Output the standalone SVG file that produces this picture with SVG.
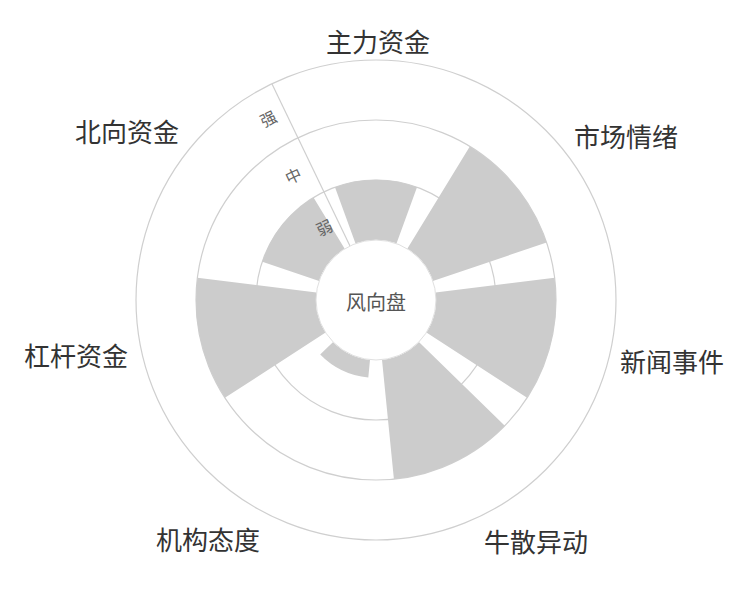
<svg xmlns="http://www.w3.org/2000/svg" width="750" height="600" viewBox="0 0 750 600">
<style>
.ring{fill:none;stroke:#cfcfcf;stroke-width:1.2}
.sec{fill:#cccccc;stroke:none}
.lbl{font-family:"Noto Sans CJK SC",sans-serif;font-size:26px;fill:#333;text-anchor:middle;dominant-baseline:central}
.lvl{font-family:"Noto Sans CJK SC",sans-serif;font-size:16px;fill:#666;text-anchor:middle;dominant-baseline:central}
</style>
<rect width="750" height="600" fill="#fff"/>
<g id="grid">
<circle class="ring" cx="376" cy="300" r="240"/>
<circle class="ring" cx="376" cy="300" r="180"/>
<circle class="ring" cx="376" cy="300" r="120"/>
</g>
<g id="sectors">
<path id="s-zhuli" class="sec" d="M355.5,243.6 L335,187.2 A120 120 0 0 1 417,187.2 L396.5,243.6 A60 60 0 0 0 355.5,243.6 Z"/>
<path id="s-shichang" class="sec" d="M407.3,248.8 L469.8,146.4 A180 180 0 0 1 546.6,242.6 L432.9,280.9 A60 60 0 0 0 407.3,248.8 Z"/>
<path id="s-xinwen" class="sec" d="M435.5,292.6 L554.6,277.8 A180 180 0 0 1 527.1,397.8 L426.4,332.6 A60 60 0 0 0 435.5,292.6 Z"/>
<path id="s-niusan" class="sec" d="M418.9,341.9 L504.8,425.7 A180 180 0 0 1 393.9,479.1 L382,359.7 A60 60 0 0 0 418.9,341.9 Z"/>
<path id="s-jigou" class="sec" d="M370,359.7 L368.3,377.6 A78 78 0 0 1 320.2,354.5 L333.1,341.9 A60 60 0 0 0 370,359.7 Z"/>
<path id="s-ganggan" class="sec" d="M325.6,332.6 L224.9,397.8 A180 180 0 0 1 197.4,277.8 L316.5,292.6 A60 60 0 0 0 325.6,332.6 Z"/>
<path id="s-beixiang" class="sec" d="M319.1,280.9 L262.3,261.7 A120 120 0 0 1 313.5,197.6 L344.7,248.8 A60 60 0 0 0 319.1,280.9 Z"/>
</g>
<g id="connectors">
<line x1="350" y1="245.9" x2="271.9" y2="83.7" stroke="#cfcfcf" stroke-width="1.2"/>
</g>
<g id="center">
<circle cx="376" cy="300" r="60" fill="#fff" stroke="#e0e0e0" stroke-width="1"/>
<text x="376" y="301" class="lbl" style="font-size:20px;fill:#555">风向盘</text>
</g>
<g id="levels">
<text class="lvl" transform="translate(268,118) rotate(-25.7)">强</text>
<text class="lvl" transform="translate(293,175) rotate(-25.7)">中</text>
<text class="lvl" transform="translate(324,227) rotate(-25.7)">弱</text>
</g>
<g id="labels">
<text class="lbl" x="378" y="40">主力资金</text>
<text class="lbl" x="626" y="135">市场情绪</text>
<text class="lbl" x="672" y="360">新闻事件</text>
<text class="lbl" x="536" y="540">牛散异动</text>
<text class="lbl" x="208" y="538">机构态度</text>
<text class="lbl" x="76" y="354">杠杆资金</text>
<text class="lbl" x="127" y="130">北向资金</text>
</g>
</svg>
